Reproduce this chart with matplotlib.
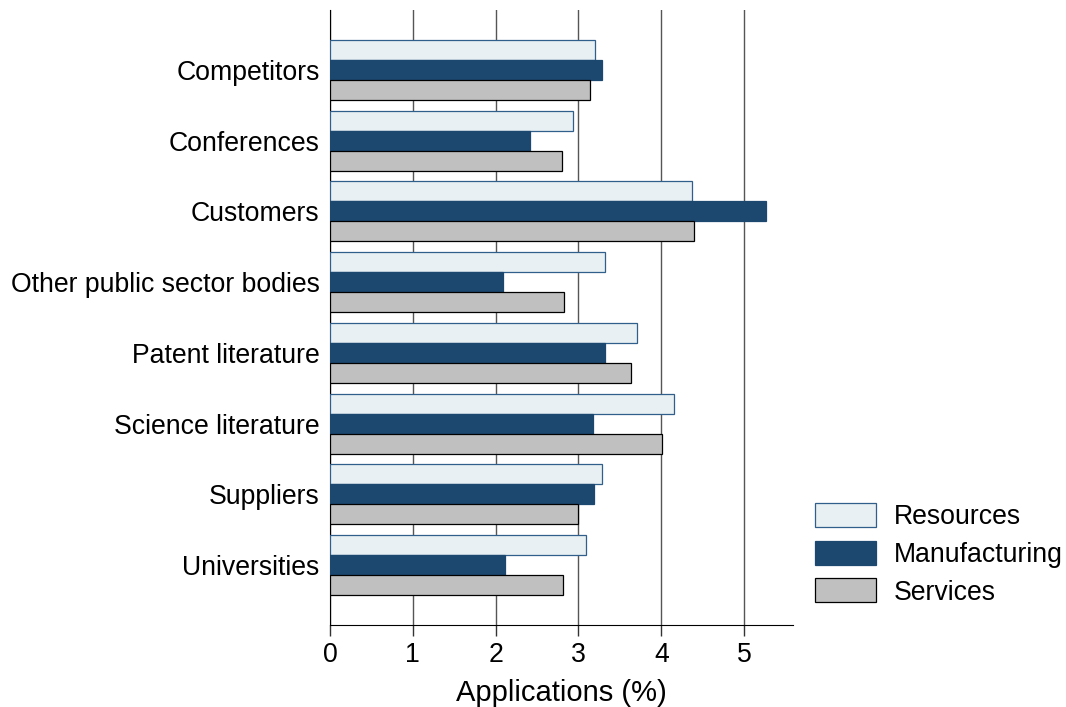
import matplotlib
matplotlib.use("Agg")
import matplotlib.pyplot as plt
import numpy as np

categories = ["Competitors", "Conferences", "Customers", "Other public sector bodies",
              "Patent literature", "Science literature", "Suppliers", "Universities"]
resources = [3.20, 2.93, 4.37, 3.32, 3.71, 4.15, 3.29, 3.09]
manufacturing = [3.28, 2.42, 5.27, 2.09, 3.32, 3.18, 3.19, 2.11]
services = [3.14, 2.80, 4.40, 2.82, 3.63, 4.01, 3.00, 2.81]
series_names = ["Resources", "Manufacturing", "Services"]
xticks = [0, 1, 2, 3, 4, 5]

plt.rcParams['font.family'] = ['Liberation Sans', 'DejaVu Sans']

fig = plt.figure(figsize=(10.66, 7.07), dpi=100)
ax = fig.add_axes([330/1066, 1 - 625/707, (793-330)/1066, (625-10)/707])

y = np.arange(len(categories))
h = 0.283
styles = [
    dict(color="#E8F0F3", edgecolor="#2F5F8A"),
    dict(color="#1C4870", edgecolor="#1C4870"),
    dict(color="#C0C0C0", edgecolor="#000000"),
]
for i, (vals, name) in enumerate(zip([resources, manufacturing, services], series_names)):
    ax.barh(y + (i - 1) * h, vals, height=h, label=name, linewidth=0.9, zorder=3, **styles[i])

ax.set_ylim(len(categories) - 1 + 0.849, -0.849)
ax.set_xlim(0, 5.59)
ax.set_yticks(y)
ax.set_yticklabels(categories, fontsize=19.2)
ax.set_xticks(xticks)
ax.set_xticklabels([str(t) for t in xticks], fontsize=19.2)
ax.tick_params(axis='y', length=0, pad=7.5)
ax.tick_params(axis='x', length=8, width=1, color="#333333", pad=4)
ax.xaxis.grid(True, color="#555555", linewidth=1.0, zorder=0)
ax.set_axisbelow(True)
for s in ["top", "right"]:
    ax.spines[s].set_visible(False)
ax.spines["left"].set_color("black")
ax.spines["bottom"].set_color("black")
ax.set_xlabel("Applications (%)", fontsize=21, labelpad=8)

leg = fig.legend(loc="upper left", bbox_to_anchor=(815/1066, 1 - 503/707), frameon=False,
                 fontsize=19.2, handlelength=2.3, handleheight=1.0, labelspacing=0.4,
                 handletextpad=0.64, borderaxespad=0, borderpad=0)

fig.savefig("out.png", dpi=100)
